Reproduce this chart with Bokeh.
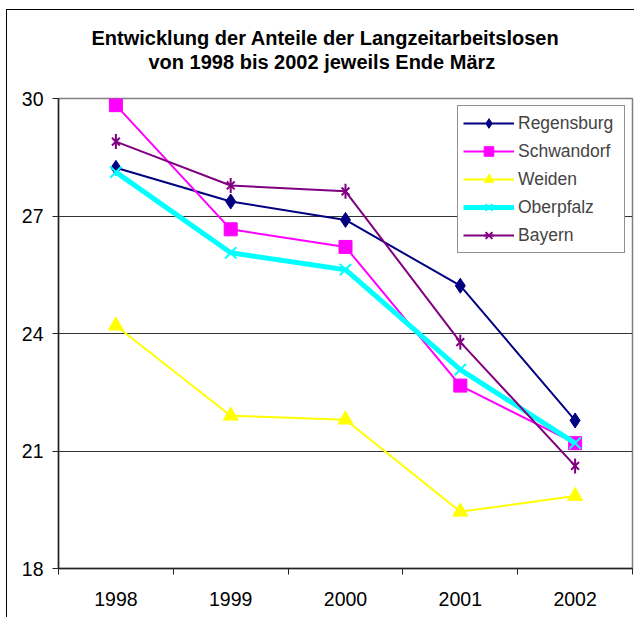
from bokeh.plotting import figure
from bokeh.models import (Range1d, FixedTicker, Legend, LegendItem, Title,
                          InlineStyleSheet)
from bokeh.embed import file_html
from bokeh.resources import INLINE
import numpy as np

# ---- data ----
years = [1998, 1999, 2000, 2001, 2002]
regensburg = [28.23, 27.37, 26.90, 25.22, 21.78]
schwandorf = [29.83, 26.66, 26.21, 22.67, 21.20]
weiden = [24.20, 21.90, 21.80, 19.45, 19.85]
oberpfalz = [28.12, 26.06, 25.63, 23.08, 21.20]
bayern = [28.90, 27.78, 27.63, 23.78, 20.62]

y_ticks = [18, 21, 24, 27, 30]
grid_ticks = [21, 24, 27]
title_lines = ["Entwicklung der Anteile der Langzeitarbeitslosen",
               "von 1998 bis 2002 jeweils Ende März"]

FONT = "Liberation Sans"

border_css = InlineStyleSheet(css="""
:host { position: relative; }
:host::after {
  content: ""; position: absolute; left: 6px; top: 9px; right: 0; bottom: 0;
  border-left: 1.5px solid #000; border-top: 1.5px solid #000;
  pointer-events: none;
}
""")

p = figure(width=634, height=617, output_backend="svg", toolbar_location=None,
           x_range=Range1d(1997.5, 2002.5), y_range=Range1d(18, 30),
           min_border_left=58, min_border_right=2, min_border_top=98,
           min_border_bottom=49, stylesheets=[border_css])
p.title.visible = False
p.background_fill_color = "white"
p.border_fill_color = "white"
p.outline_line_color = "#808080"
p.outline_line_width = 1.5

# axes
p.xaxis.ticker = FixedTicker(ticks=years,
                             minor_ticks=[1997.5, 1998.5, 1999.5, 2000.5, 2001.5, 2002.5])
p.xaxis.major_tick_out = 0
p.xaxis.major_tick_in = 0
p.xaxis.minor_tick_out = 6
p.xaxis.minor_tick_in = 0
p.xaxis.minor_tick_line_color = "#222222"
p.xaxis.major_label_standoff = 17
p.yaxis.ticker = FixedTicker(ticks=y_ticks)
p.yaxis.major_tick_out = 6
p.yaxis.major_tick_in = 0
p.yaxis.minor_tick_line_color = None
p.yaxis.major_label_standoff = 9
for ax in (p.xaxis, p.yaxis):
    ax.axis_line_color = "#222222"
    ax.axis_line_width = 1.5
    ax.major_tick_line_color = "#222222"
    ax.major_label_text_font = FONT
    ax.major_label_text_font_size = "19.5px"
    ax.major_label_text_color = "black"

p.xgrid.visible = False
p.ygrid.ticker = FixedTicker(ticks=grid_ticks)
p.ygrid.grid_line_color = "#333333"
p.ygrid.grid_line_width = 1

items = []

# Regensburg
l1 = p.line(years, regensburg, line_color="#000080", line_width=2)
m1 = p.scatter(years, regensburg, marker="diamond", size=15,
               fill_color="#000080", line_color="#000080")
items.append(LegendItem(label="Regensburg", renderers=[l1, m1]))

# Schwandorf
l2 = p.line(years, schwandorf, line_color="#FF00FF", line_width=2)
m2 = p.scatter(years, schwandorf, marker="square", size=13,
               fill_color="#FF00FF", line_color="#FF00FF")
items.append(LegendItem(label="Schwandorf", renderers=[l2, m2]))

# Weiden
l3 = p.line(years, weiden, line_color="#FFFF00", line_width=2)
m3 = p.scatter(years, weiden, marker="triangle", size=15,
               fill_color="#FFFF00", line_color="#FFFF00")
items.append(LegendItem(label="Weiden", renderers=[l3, m3]))

# Oberpfalz
l4 = p.line(years, oberpfalz, line_color="#00FFFF", line_width=5)
m4 = p.scatter(years, oberpfalz, marker="x", size=16,
               line_color="#00FFFF", line_width=2)
items.append(LegendItem(label="Oberpfalz", renderers=[l4, m4]))

# Bayern
l5 = p.line(years, bayern, line_color="#800080", line_width=2)
m5a = p.scatter(years, bayern, marker="x", size=11,
                line_color="#800080", line_width=2)
m5b = p.scatter(years, bayern, marker="dash", angle=np.pi / 2, size=15,
                line_color="#800080", line_width=2)
items.append(LegendItem(label="Bayern", renderers=[l5, m5a, m5b]))

legend = Legend(items=items, location="top_right")
legend.margin = 7
legend.padding = 5
legend.spacing = 4
legend.glyph_width = 51
legend.glyph_height = 24
legend.label_height = 24
legend.label_width = 101
legend.label_standoff = 4
legend.label_text_font = FONT
legend.label_text_font_size = "17.5px"
legend.border_line_color = "#222222"
legend.border_line_width = 1
legend.background_fill_color = "white"
legend.background_fill_alpha = 1
p.add_layout(legend, "center")

# title lines: a blank spacer sits closest to the plot, then line 2, then line 1
spacer = Title(text=" ", standoff=22, text_font=FONT, text_font_size="2px")
t2 = Title(text=title_lines[1], align="left", offset=90, standoff=0,
           text_font=FONT, text_font_size="20px", text_font_style="bold",
           text_color="black")
t1 = Title(text=title_lines[0], align="left", offset=33, standoff=0,
           text_font=FONT, text_font_size="20px", text_font_style="bold",
           text_color="black")
p.add_layout(spacer, "above")
p.add_layout(t2, "above")
p.add_layout(t1, "above")

open("out.html", "w").write(file_html(p, INLINE))
